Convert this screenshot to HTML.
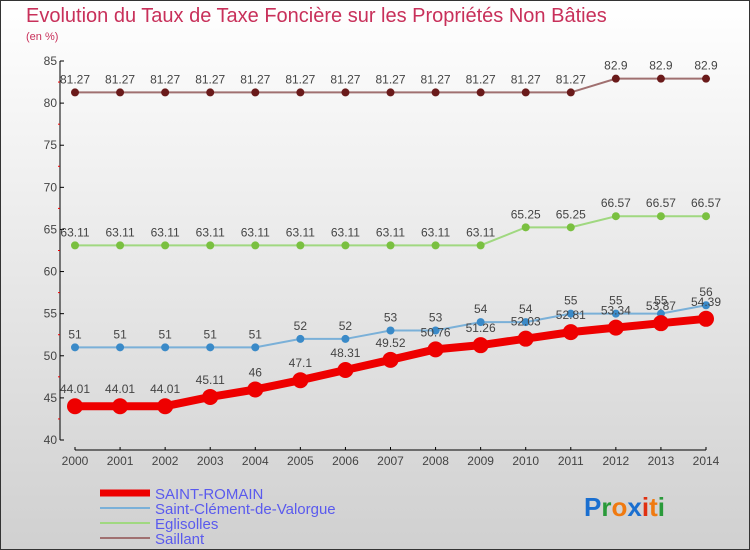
<!DOCTYPE html>
<html><head><meta charset="utf-8"><style>
body{margin:0;width:750px;height:550px;overflow:hidden}
svg{display:block;font-family:"Liberation Sans",sans-serif}
</style></head><body>
<svg width="750" height="550">
<defs><linearGradient id="bg" x1="0" y1="0" x2="0" y2="1"><stop offset="0" stop-color="#ffffff"/><stop offset="1" stop-color="#d0d0d0"/></linearGradient></defs>
<rect x="0.5" y="0.5" width="749" height="549" fill="url(#bg)" stroke="#333"/>
<text x="26" y="22" font-size="20" fill="#c8305a">Evolution du Taux de Taxe Foncière sur les Propriétés Non Bâties</text>
<text x="26" y="40" font-size="11" fill="#c8305a">(en %)</text>
<g id="axes"></g>
<g id="series"></g>
<g id="legend"></g>
<text x="584" y="516" font-size="26" font-weight="bold"><tspan fill="#1a6fd0">P</tspan><tspan fill="#2a9a3a">r</tspan><tspan fill="#f07a10">o</tspan><tspan fill="#1a6fd0">x</tspan><tspan fill="#e03010">i</tspan><tspan fill="#f07a10">t</tspan><tspan fill="#2a9a3a">i</tspan></text>
</svg>
<script>
const years=[2000,2001,2002,2003,2004,2005,2006,2007,2008,2009,2010,2011,2012,2013,2014];
const saintRomain=[44.01,44.01,44.01,45.11,46,47.1,48.31,49.52,50.76,51.26,52.03,52.81,53.34,53.87,54.39];
const saintClement=[51,51,51,51,51,52,52,53,53,54,54,55,55,55,56];
const eglisolles=[63.11,63.11,63.11,63.11,63.11,63.11,63.11,63.11,63.11,63.11,65.25,65.25,66.57,66.57,66.57];
const saillant=[81.27,81.27,81.27,81.27,81.27,81.27,81.27,81.27,81.27,81.27,81.27,81.27,82.9,82.9,82.9];
const yTicks=[40,45,50,55,60,65,70,75,80,85];
const NS="http://www.w3.org/2000/svg";
const X=i=>75+i*(706-75)/(years.length-1);
const Y=v=>440-(v-40)*(440-61)/45;
function mk(tag,attrs,parent){const e=document.createElementNS(NS,tag);for(const k in attrs)e.setAttribute(k,attrs[k]);parent.appendChild(e);return e;}
const ax=document.getElementById('axes');
let yl=mk('line',{x1:60,y1:61,x2:60,y2:440,stroke:'#000'},ax);


yTicks.forEach(t=>{mk('line',{x1:60,y1:Y(t),x2:64,y2:Y(t),stroke:'#000'},ax);
 if(t<85){const m=mk('line',{x1:58,y1:Y(t+2.5),x2:60,y2:Y(t+2.5),stroke:'#e00'},ax);}
 const tx=mk('text',{x:57,y:Y(t)+4,'font-size':12,'text-anchor':'end',fill:'#444'},ax);tx.textContent=t;
 
 });
let xl=mk('line',{x1:75,y1:450,x2:706,y2:450,stroke:'#000'},ax);


years.forEach((y,i)=>{mk('line',{x1:X(i),y1:447,x2:X(i),y2:450,stroke:'#000'},ax);
 const tx=mk('text',{x:X(i),y:465,'font-size':12,'text-anchor':'middle',fill:'#444'},ax);tx.textContent=y;
 
 });
const sg=document.getElementById('series');
const series=[
 {name:'saillant',d:saillant,c:'#a07070',p:'#6a1a1a',w:2,r:4},
 {name:'eglisolles',d:eglisolles,c:'#a0d880',p:'#7ac040',w:2,r:4},
 {name:'saint-clement',d:saintClement,c:'#7ab0d8',p:'#3a8ac8',w:2,r:4},
 {name:'saint-romain',d:saintRomain,c:'#ee0000',p:'#ee0000',w:8,r:8}];
series.forEach(s=>{
 const g=mk('g',{},sg);
 
 
 mk('polyline',{points:s.d.map((v,i)=>X(i)+','+Y(v)).join(' '),fill:'none',stroke:s.c,'stroke-width':s.w},g);
 s.d.forEach((v,i)=>{const c=mk('circle',{cx:X(i),cy:Y(v),r:s.r,fill:s.p},g);
  
  
  const t=mk('text',{x:X(i),y:Y(v)-(s.r+5),'font-size':12,'text-anchor':'middle',fill:'#444'},g);t.textContent=v;
  
  });
});
const lg=document.getElementById('legend');
[['SAINT-ROMAIN','#ee0000',7],['Saint-Clément-de-Valorgue','#7ab0d8',2],['Eglisolles','#a0d880',2],['Saillant','#a07070',2]].forEach((e,i)=>{
 const y=493+i*15;
 const l=mk('line',{x1:100,y1:y,x2:150,y2:y,stroke:e[1],'stroke-width':e[2]},lg);
 
 
 const t=mk('text',{x:155,y:y+6,'font-size':15,fill:'#5a5aee'},lg);t.textContent=e[0];
 
 
});
</script>
</body></html>
